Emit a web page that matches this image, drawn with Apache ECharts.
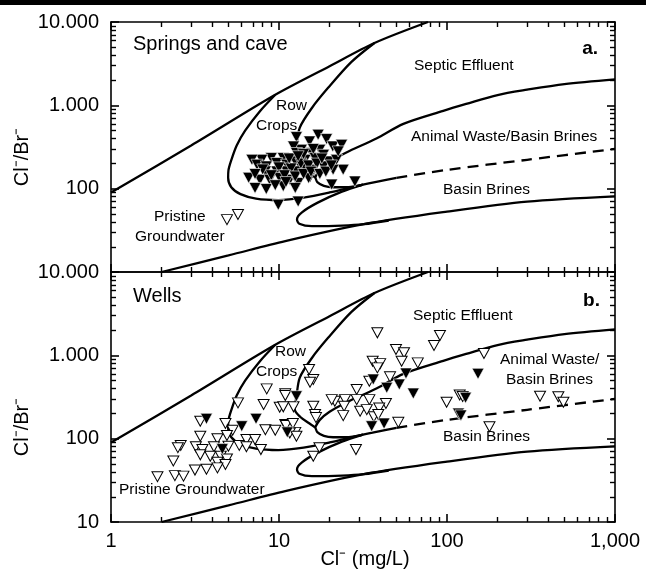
<!DOCTYPE html>
<html>
<head>
<meta charset="utf-8">
<script src="https://cdn.jsdelivr.net/npm/echarts@6/dist/echarts.min.js"></script>
<style>
  html, body { margin: 0; padding: 0; background: #fff; }
  #main { width: 646px; height: 570px; }
</style>
</head>
<body>
<div id="main"></div>
<script>
// mixing curves (Cl mg/L, Cl/Br), same in both panels
var septicLine = [[1, 90], [3, 330], [9.5, 1340], [20, 2950], [37, 5600], [77, 10000]];
var rowCropsOuter = [[9.5, 1340], [7.7, 850], [6.3, 500], [5.6, 330], [5.2, 220], [5.0, 165], [4.98, 135],
  [5.2, 104], [5.9, 86], [7.3, 76], [9.9, 73], [14, 78], [20, 90], [31.6, 112], [50, 135]];
var brineDashed = [[50, 135], [100, 168], [300, 222], [1000, 300]];
var rowCropsInner = [[37, 5600], [27, 3320], [19.6, 1620], [15.7, 930], [13.3, 540], [12.7, 320], [12.4, 225],
  [13.4, 182], [15.2, 152], [16.4, 136], [16.9, 120], [18.5, 108], [21, 104], [25, 104], [31.6, 112]];
var animalLine = [[1000, 2050], [500, 1800], [300, 1540], [200, 1330], [130, 1040], [95, 860], [55, 600],
  [38, 400], [25, 270], [20, 210], [17.5, 168], [16.4, 136]];
var basinLoop = [[31.6, 112], [23.7, 92], [17, 68], [13.7, 52], [12.8, 43], [13.2, 38], [15.7, 35.5],
  [23.7, 36], [32, 37.5], [45, 41.5]];
var basinLower = [[2, 10], [5, 15.8], [10.9, 23.5], [32, 37.5], [100, 53], [300, 70], [1000, 81]];

// panel a: springs and cave
var springsFilled = [
  [12.7, 416], [15.2, 369], [17.1, 444], [19.2, 394], [20.9, 321], [23.6, 336], [17.5, 293], [15.6, 268],
  [13.6, 293], [12.2, 321], [12.7, 268], [10.6, 233], [9.0, 233], [7.9, 222], [6.9, 222], [7.4, 194],
  [8.4, 185], [9.7, 203], [11.1, 194], [12.5, 212], [14.3, 222], [16.4, 233], [18.4, 255], [19.7, 212],
  [22.0, 222], [24.1, 169], [21.0, 169], [18.4, 185], [16.0, 169], [14.3, 177], [12.7, 161], [11.1, 161],
  [9.7, 161], [8.3, 161], [7.7, 128], [8.8, 128], [10.1, 134], [11.6, 128], [13.0, 117], [15.0, 134],
  [7.2, 102], [8.4, 99], [10.6, 107], [12.5, 102], [20.6, 112], [28.3, 122], [9.9, 64], [13.0, 70],
  [10, 180], [11.8, 175], [13.5, 200], [15, 190], [16.8, 200], [9, 145], [10.8, 145], [12.5, 140],
  [14, 150], [15.5, 160], [17.5, 150], [19, 160], [20.5, 190], [8, 170], [14, 260], [16, 300],
  [11.5, 230], [13, 245], [22.5, 280], [18, 230], [9.5, 110], [11, 120], [6.6, 135], [7.2, 150]
];
var springsOpen = [[4.9, 42.5], [5.7, 49], [15.3, 141]];

// panel b: wells
var wellsFilled = [
  [3.7, 173], [6.0, 141], [7.3, 173], [4.6, 75], [12.7, 323], [11.2, 119], [36.4, 513], [43.8, 408],
  [52, 447], [57, 606], [63, 348], [35.6, 141], [42.2, 152], [153, 600], [117, 200], [121, 190],
  [129, 310]
];
var wellsOpen = [
  [8.45, 396], [10.9, 345], [5.7, 269], [8.1, 257], [10.1, 238], [3.4, 162], [4.8, 152], [5.3, 126],
  [8.3, 128], [9.5, 126], [10.9, 148], [3.4, 107], [4.3, 100], [4.9, 109], [2.6, 83], [2.5, 78],
  [3.2, 80], [3.5, 74], [4.1, 80], [5.0, 81], [5.8, 83], [6.4, 97.5], [7.2, 97.5], [6.4, 80], [7.8, 74],
  [3.4, 64], [3.9, 61.5], [4.5, 61.5], [4.9, 57], [4.3, 52], [4.8, 49], [2.35, 54], [3.16, 42], [3.7, 43],
  [4.3, 44.6], [1.89, 35], [2.4, 36], [2.7, 35.5],
  [38.5, 1862], [90.8, 1730], [83.7, 1312], [49.7, 1175], [55.5, 1072], [53.7, 850], [67, 812],
  [36.1, 850], [40, 795], [38.5, 707], [166, 1052], [15.1, 676], [16, 513], [15.3, 475], [34.5, 489],
  [45.8, 552], [29, 389], [34.5, 294], [43.3, 264], [39.5, 234], [36.7, 183], [29, 294], [24.7, 294],
  [21.5, 281], [20.6, 294], [24.4, 245], [24.1, 189], [30.4, 213], [33.3, 223], [39, 195], [16, 245],
  [16.4, 195], [16.6, 179], [12.2, 241], [10.9, 329], [10.6, 241], [11, 144], [12.1, 152], [12.5, 119],
  [11.6, 117], [12.7, 107], [51.3, 157], [99.5, 274], [179, 139], [28.7, 74], [17.4, 78], [16, 61.5],
  [119, 335], [124, 321], [358, 323], [460, 318], [493, 274]
];

var FONT = '"Liberation Sans", Arial, Helvetica, sans-serif';
var chart = echarts.init(document.getElementById('main'));

function fmtX(v) {
  return v >= 1000 ? '1,000' : String(v);
}
function fmtYTop(v) {
  if (v >= 10000) return '10.000';
  if (v >= 1000) return '1.000';
  if (v <= 10) return '';
  return String(v);
}
function fmtYBottom(v) {
  if (v >= 10000) return '10.000';
  if (v >= 1000) return '1.000';
  return String(v);
}

function makeAxis(g, pos, isX, formatter) {
  return {
    gridIndex: g,
    type: 'log',
    logBase: 10,
    min: isX ? 1 : 10,
    max: isX ? 1000 : 10000,
    position: pos,
    axisLine: { show: true, lineStyle: { color: '#000', width: 1.6 } },
    axisTick: { show: true, inside: true, length: 8, lineStyle: { color: '#000', width: 1.6 } },
    minorTick: { show: true, splitNumber: 9, length: 5, lineStyle: { color: '#000', width: 1.4 } },
    axisLabel: formatter ? {
      show: true, formatter: formatter, color: '#000', fontFamily: FONT, fontSize: 20,
      margin: isX ? 9 : 12, showMinLabel: true, showMaxLabel: true
    } : { show: false },
    splitLine: { show: false },
    minorSplitLine: { show: false }
  };
}

var xAxes = [], yAxes = [], series = [];
[0, 1].forEach(function (g) {
  xAxes.push(makeAxis(g, 'bottom', true, g === 1 ? fmtX : null));
  xAxes.push(makeAxis(g, 'top', true, null));
  yAxes.push(makeAxis(g, 'left', false, g === 0 ? fmtYTop : fmtYBottom));
  yAxes.push(makeAxis(g, 'right', false, null));

  var curves = [septicLine, rowCropsOuter, rowCropsInner, animalLine, basinLoop, basinLower];
  curves.forEach(function (c) {
    series.push({
      type: 'line', xAxisIndex: g * 2, yAxisIndex: g * 2, data: c,
      symbol: 'none', smooth: 0.3, silent: true, z: 2,
      lineStyle: { color: '#000', width: 2.3 }
    });
  });
  series.push({
    type: 'line', xAxisIndex: g * 2, yAxisIndex: g * 2, data: brineDashed,
    symbol: 'none', smooth: 0.3, silent: true, z: 2,
    lineStyle: { color: '#000', width: 2.3, type: [11, 7] }
  });

  var filled = g === 0 ? springsFilled : wellsFilled;
  var open = g === 0 ? springsOpen : wellsOpen;
  series.push({
    type: 'scatter', xAxisIndex: g * 2, yAxisIndex: g * 2, data: open,
    symbol: 'triangle', symbolRotate: 180, symbolSize: [11, 10], z: 4,
    itemStyle: { color: '#fff', borderColor: '#000', borderWidth: 1, opacity: 1 }
  });
  series.push({
    type: 'scatter', xAxisIndex: g * 2, yAxisIndex: g * 2, data: filled,
    symbol: 'triangle', symbolRotate: 180, symbolSize: [12, 11], z: 5,
    itemStyle: { color: '#000', borderColor: '#fff', borderWidth: 0.6, opacity: 1 }
  });
});

function label(text, x, y, size, align, bold) {
  return {
    type: 'text', x: x, y: y,
    style: {
      text: text, fill: '#000',
      font: (bold ? 'bold ' : '') + size + 'px ' + FONT,
      align: align || 'left', verticalAlign: 'middle'
    }
  };
}

var graphics = [
  { type: 'rect', shape: { x: 0, y: 0, width: 646, height: 5 }, style: { fill: '#000' } },
  // panel a
  label('Springs and cave', 133, 44, 20),
  label('a.', 598, 49, 19, 'right', true),
  label('Septic Effluent', 414, 66, 15.5),
  label('Row', 276, 106, 15.5),
  label('Crops', 256, 126, 15.5),
  label('Animal Waste/Basin Brines', 411, 137, 15.5),
  label('Basin Brines', 443, 190, 15.5),
  label('Pristine', 154, 217, 15.5),
  label('Groundwater', 135, 237, 15.5),
  // panel b
  label('Wells', 133, 296, 20),
  label('b.', 600, 301, 19, 'right', true),
  label('Septic Effluent', 413, 316, 15.5),
  label('Row', 275, 352, 15.5),
  label('Crops', 256, 372, 15.5),
  label('Animal Waste/', 500, 360, 15.5),
  label('Basin Brines', 506, 380, 15.5),
  label('Basin Brines', 443, 437, 15.5),
  label('Pristine Groundwater', 119, 490, 15.5),
  // axis titles
  label('Cl\u207B (mg/L)', 365, 559, 20, 'center'),
  {
    type: 'text', x: 22, y: 157, rotation: Math.PI / 2,
    style: { text: 'Cl\u207B/Br\u207B', fill: '#000', font: '20px ' + FONT, align: 'center', verticalAlign: 'middle' }
  },
  {
    type: 'text', x: 22, y: 427, rotation: Math.PI / 2,
    style: { text: 'Cl\u207B/Br\u207B', fill: '#000', font: '20px ' + FONT, align: 'center', verticalAlign: 'middle' }
  }
];

chart.setOption({
  animation: false,
  grid: [
    { left: 111, top: 22, width: 504, height: 250 },
    { left: 111, top: 272, width: 504, height: 250 }
  ],
  xAxis: xAxes,
  yAxis: yAxes,
  series: series,
  graphic: graphics
});
</script>
</body>
</html>
